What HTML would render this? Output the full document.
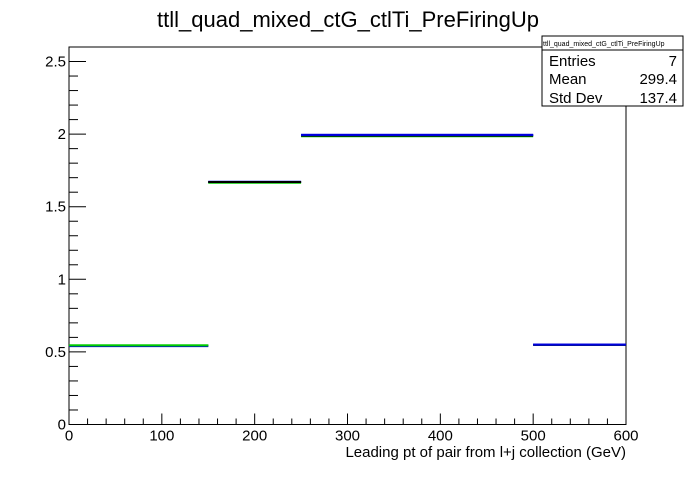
<!DOCTYPE html>
<html><head><meta charset="utf-8"><style>
body{margin:0;background:#fff;}
svg text{font-family:"Liberation Sans",Arial,sans-serif;}
</style></head><body>
<svg id="chart" width="696" height="472" xmlns="http://www.w3.org/2000/svg">
<rect width="696" height="472" fill="#fff"/>
<text x="348" y="27" font-size="22" text-anchor="middle">ttll_quad_mixed_ctG_ctlTi_PreFiringUp</text>
<rect x="69" y="47" width="557" height="377.5" fill="none" stroke="#000" stroke-width="1"/>
<g id="axes"></g>
<g id="bars"></g>
<text x="626" y="457" font-size="15" text-anchor="end">Leading pt of pair from l+j collection (GeV)</text>
<g>
<rect x="542" y="36" width="141" height="70" fill="#fff" stroke="#000"/>
<line x1="542" y1="50" x2="683" y2="50" stroke="#000"/>
<text x="543" y="46" font-size="7">ttll_quad_mixed_ctG_ctlTi_PreFiringUp</text>
<text x="549" y="66" font-size="15">Entries</text><text x="677" y="66" font-size="15" text-anchor="end">7</text>
<text x="549" y="84" font-size="15">Mean</text><text x="677" y="84" font-size="15" text-anchor="end">299.4</text>
<text x="549" y="103" font-size="15">Std Dev</text><text x="677" y="103" font-size="15" text-anchor="end">137.4</text>
</g>
</svg>
<script>
const binEdges=[0,150,250,500,600];
const valuesGreen=[0.545,1.665,1.985,0.548];
const valuesBlack=[0.542,1.67,1.99,0.548];
const valuesBlue=[0.540,1.672,1.995,0.550];
const topColors=["#00cc00","#000000","#0000dd","#0000dd"];
const xTicks=[0,100,200,300,400,500,600];
const yTicks=[0,0.5,1,1.5,2,2.5];
const X0=69,X1=626,Y0=424.5,Y1=47,XMAX=600,YMAX=2.6;
const sx=v=>X0+(X1-X0)*v/XMAX;
const sy=v=>Y0-(Y0-Y1)*v/YMAX;
const NS="http://www.w3.org/2000/svg";
const axes=document.getElementById('axes'),bars=document.getElementById('bars');
function ln(p,x1,y1,x2,y2,c,w){const l=document.createElementNS(NS,'line');l.setAttribute('x1',x1);l.setAttribute('y1',y1);l.setAttribute('x2',x2);l.setAttribute('y2',y2);l.setAttribute('stroke',c);l.setAttribute('stroke-width',w);p.appendChild(l);return l;}
function tx(p,x,y,s,a){const t=document.createElementNS(NS,'text');t.setAttribute('x',x);t.setAttribute('y',y);t.setAttribute('font-size','15');t.setAttribute('text-anchor',a);t.textContent=s;p.appendChild(t);return t;}
for(let v=0;v<=600;v+=20){const maj=v%100===0;const l=ln(axes,sx(v),Y0,sx(v),Y0-(maj?11:6),'#000',1);

}
xTicks.forEach(v=>{const t=tx(axes,sx(v),Y0+16,String(v),'middle');

});
for(let i=0;i<=26;i++){const v=i*0.1;const maj=i%5===0;const l=ln(axes,X0,sy(v),X0+(maj?17:9),sy(v),'#000',1);

}
yTicks.forEach(v=>{const t=tx(axes,X0-3,sy(v)+5,String(v),'end');

});
function series(vals,color,name){for(let i=0;i<vals.length;i++){const l=ln(bars,sx(binEdges[i]),sy(vals[i]),sx(binEdges[i+1]),sy(vals[i]),color,2);

}}
series(valuesGreen,'#00cc00','green-series');
series(valuesBlack,'#000000','black-series');
series(valuesBlue,'#0000dd','blue-series');
for(let i=0;i<topColors.length;i++){const v=[valuesGreen,valuesBlack,valuesBlue,valuesBlue][i][i];const l=ln(bars,sx(binEdges[i]),sy(v),sx(binEdges[i+1]),sy(v),topColors[i],2);

}
</script>
</body></html>
